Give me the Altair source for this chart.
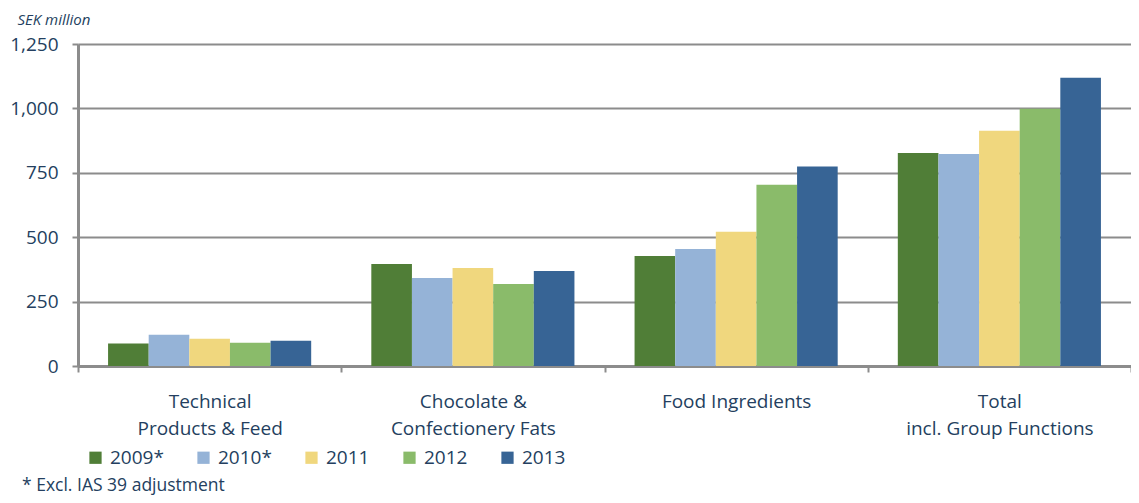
import altair as alt
import pandas as pd

categories = ["Technical|Products & Feed", "Chocolate &|Confectionery Fats", "Food Ingredients", "Total|incl. Group Functions"]
years = ["2009*", "2010*", "2011", "2012", "2013"]
v2009 = [87, 396, 427, 827]
v2010 = [121, 342, 454, 823]
v2011 = [106, 380, 521, 913]
v2012 = [90, 318, 704, 999]
v2013 = [98, 369, 774, 1119]
colors = ["#507E37", "#95B3D7", "#F0D77E", "#8ABB6A", "#376495"]
footnote = ["* Excl. IAS 39 adjustment"]

rows = []
for yr, vals in zip(years, [v2009, v2010, v2011, v2012, v2013]):
    for c, v in zip(categories, vals):
        rows.append({"category": c, "year": yr, "value": v})
df = pd.DataFrame(rows)

TXT = "#243F60"
GRAY = "#8C8C8C"
FONT = "Open Sans"

bars = alt.Chart(df).mark_bar().encode(
    x=alt.X("category:N", sort=categories,
            scale=alt.Scale(paddingInner=0, paddingOuter=0),
            axis=alt.Axis(title=None, labelAngle=0, labelExpr="split(datum.label, '|')",
                          labelFontSize=19, labelColor=TXT, labelFont=FONT, labelLimit=400,
                          labelLineHeight=27, labelPadding=20, labelBaseline="top",
                          tickBand="extent", tickSize=6, tickColor=GRAY, tickWidth=2,
                          domainColor=GRAY, domainWidth=3, grid=False)),
    xOffset=alt.XOffset("year:N", sort=years,
                        scale=alt.Scale(paddingInner=0, paddingOuter=0.74)),
    y=alt.Y("value:Q", scale=alt.Scale(domain=[0, 1250], nice=False),
            axis=alt.Axis(values=[0, 250, 500, 750, 1000, 1250], format=",.0f",
                          labelFontSize=19, labelColor=TXT, labelFont=FONT, labelPadding=14,
                          tickSize=6, tickColor=GRAY, tickWidth=2,
                          domainColor=GRAY, domainWidth=3,
                          gridColor=GRAY, gridWidth=2,
                          title="SEK million", titleAngle=0, titleAlign="left",
                          titleBaseline="middle", titleX=-61, titleY=-25, titleLimit=300,
                          titleFont=FONT, titleFontSize=15, titleFontStyle="italic",
                          titleFontWeight="normal", titleColor=TXT)),
    color=alt.Color("year:N", sort=years,
                    scale=alt.Scale(domain=years, range=colors),
                    legend=alt.Legend(title=None, orient="none", direction="horizontal",
                                      legendX=8, legendY=404,
                                      symbolType="square", symbolSize=150,
                                      symbolStrokeWidth=0, labelFontSize=19,
                                      labelFont=FONT, labelColor=TXT, labelOffset=5,
                                      columnPadding=30)),
)

note = alt.Chart(pd.DataFrame({"t": footnote})).mark_text(
    align="left", baseline="middle", fontSize=17.5, font=FONT, color=TXT
).encode(text="t:N", x=alt.value(-56), y=alt.value(442))

chart = alt.layer(bars, note).properties(
    width=1053, height=322,
    autosize=alt.AutoSizeParams(type="none"),
    padding={"left": 70, "top": 36, "right": 0, "bottom": 129},
).configure_view(stroke=None)

chart.save("out.html", embed_options={"renderer": "svg", "actions": False})
